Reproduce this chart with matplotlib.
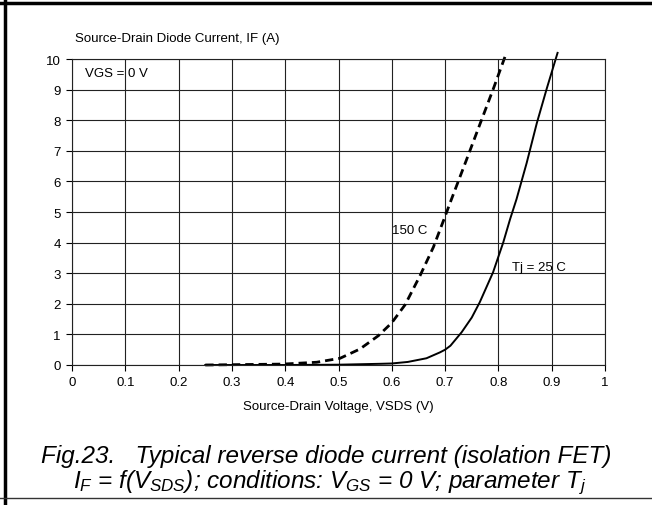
import numpy as np
import matplotlib.pyplot as plt
from matplotlib.lines import Line2D

plt.rcParams['font.family'] = ['Liberation Sans', 'DejaVu Sans']
plt.rcParams['mathtext.fontset'] = 'custom'
plt.rcParams['mathtext.it'] = 'Liberation Sans:italic'
plt.rcParams['mathtext.rm'] = 'Liberation Sans:italic'

# Data (V in volts, I in amperes)
v_25 = [0.25, 0.40, 0.50, 0.58, 0.60, 0.63, 0.665, 0.69, 0.70, 0.71, 0.731, 0.75, 0.765, 0.79, 0.809,
        0.822, 0.834, 0.853, 0.872, 0.891, 0.911]
i_25 = [0.0, 0.0, 0.01, 0.04, 0.05, 0.10, 0.22, 0.41, 0.50, 0.63, 1.07, 1.55, 2.05, 3.03, 4.0,
        4.77, 5.42, 6.6, 7.9, 9.05, 10.2]
v_150 = [0.25, 0.30, 0.396, 0.459, 0.503, 0.54, 0.575, 0.60, 0.625, 0.653, 0.678, 0.697, 0.712,
         0.74, 0.766, 0.791, 0.815]
i_150 = [0.0, 0.01, 0.03, 0.09, 0.22, 0.52, 0.96, 1.38, 1.97, 2.92, 3.85, 4.72, 5.42,
         6.7, 7.9, 9.05, 10.2]

x_ticks = [0, 0.1, 0.2, 0.3, 0.4, 0.5, 0.6, 0.7, 0.8, 0.9, 1]
x_labels = ['0', '0.1', '0.2', '0.3', '0.4', '0.5', '0.6', '0.7', '0.8', '0.9', '1']
y_ticks = list(range(0, 11))

fig = plt.figure(figsize=(6.52, 5.06), dpi=100)
W, H = 652, 506
ax = fig.add_axes([72 / W, 1 - 366 / H, (605 - 72) / W, (366 - 60) / H])

ax.plot(v_25, i_25, color='black', lw=1.4, clip_on=False)
ax.plot(v_150, i_150, color='black', lw=2.0, ls=(0, (3, 1.8)), clip_on=False)

ax.set_xlim(0, 1)
ax.set_ylim(0, 10)
ax.set_xticks(x_ticks)
ax.set_xticklabels(x_labels)
ax.set_yticks(y_ticks)
ax.grid(True, color='#222222', lw=0.8)
ax.tick_params(direction='out', length=4, width=0.8, labelsize=9.5, pad=4, colors='black')
for s in ax.spines.values():
    s.set_linewidth(0.8)
    s.set_color('#222222')

ax.text(0.025, 9.55, 'VGS = 0 V', fontsize=9.5, va='center', ha='left')
ax.text(0.601, 4.4, '150 C', fontsize=9.5, va='center', ha='left')
ax.text(0.826, 3.2, 'Tj = 25 C', fontsize=9.5, va='center', ha='left')

fig.text(75 / W, 1 - 39 / H, 'Source-Drain Diode Current, IF (A)', fontsize=9.5, va='center', ha='left')
fig.text(338 / W, 1 - 407 / H, 'Source-Drain Voltage, VSDS (V)', fontsize=9.5, va='center', ha='center')

fig.text(326 / W, 1 - 463 / H, 'Fig.23.   Typical reverse diode current (isolation FET)',
         fontsize=17.5, style='italic', va='baseline', ha='center')
fig.text(330 / W, 1 - 488 / H,
         r'$I_F$ = f($V_{SDS}$); conditions: $V_{GS}$ = 0 V; parameter $T_j$',
         fontsize=17.5, style='italic', va='baseline', ha='center')

# frame around the figure
fig.add_artist(Line2D([5 / W, 5 / W], [0, 1], color='black', lw=2.5))
fig.add_artist(Line2D([0, 1], [1 - 4 / H, 1 - 4 / H], color='black', lw=2.5))
fig.add_artist(Line2D([0, 1], [1 - 499 / H, 1 - 499 / H], color='#333333', lw=1.0))

fig.savefig('out.png', dpi=100)
